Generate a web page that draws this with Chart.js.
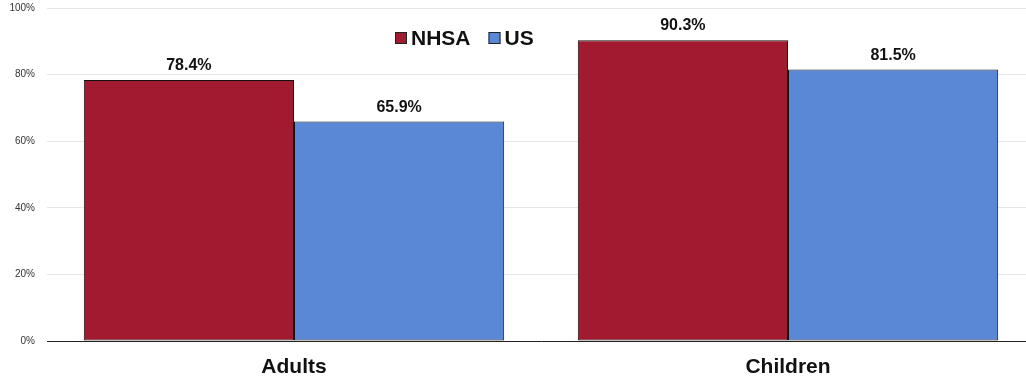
<!DOCTYPE html>
<html><head><meta charset="utf-8">
<script src="https://cdn.jsdelivr.net/npm/chart.js@4/dist/chart.umd.min.js"></script>
<style>html,body{margin:0;padding:0;background:#fff;overflow:hidden;width:1026px;height:381px}#wrap{position:absolute;left:0;top:-10px;width:1035px;height:391px}</style>
</head><body><div id="wrap"><canvas id="c"></canvas></div>
<script>
const categories = ["Adults", "Children"];
const nhsaValues = [78.4, 90.3];
const usValues = [65.9, 81.5];
const seriesNames = ["NHSA", "US"];
const yTicks = [0, 20, 40, 60, 80, 100];

const FONT = "'Liberation Sans', Arial, sans-serif";

const labelPlugin = {
  id: 'vals',
  afterDatasetsDraw(chart) {
    const ctx = chart.ctx;
    ctx.save();
    ctx.font = "bold 16px " + FONT;
    ctx.fillStyle = "#111";
    ctx.textAlign = "center";
    ctx.textBaseline = "alphabetic";
    chart.data.datasets.forEach((ds, i) => {
      chart.getDatasetMeta(i).data.forEach((bar, j) => {
        ctx.fillText(ds.data[j].toFixed(1) + "%", bar.x, bar.y - 10);
      });
    });
    ctx.restore();
  }
};

const legendPlugin = {
  id: 'customLegend',
  afterDraw(chart) {
    const ctx = chart.ctx;
    ctx.save();
    ctx.font = "bold 21px " + FONT;
    ctx.textBaseline = "middle";
    const y = chart.chartArea.top + 30;
    const box = 12;
    let x = 395;
    chart.data.datasets.forEach((ds) => {
      ctx.fillStyle = ds.backgroundColor;
      ctx.fillRect(x, y - box/2, box, box);
      ctx.strokeStyle = "#222";
      ctx.lineWidth = 1;
      ctx.strokeRect(x + 0.5, y - box/2 + 0.5, box - 1, box - 1);
      ctx.fillStyle = "#111";
      ctx.textAlign = "left";
      ctx.fillText(ds.label, x + box + 4, y + 1);
      x += box + 4 + ctx.measureText(ds.label).width + 18;
    });
    ctx.restore();
  }
};

new Chart(document.getElementById('c'), {
  type: 'bar',
  data: {
    labels: categories,
    datasets: [
      { label: seriesNames[0], data: nhsaValues, backgroundColor: "#A21A30", borderColor: "#111", borderWidth: 1, borderSkipped: false },
      { label: seriesNames[1], data: usValues, backgroundColor: "#5B87D7", borderColor: "#111", borderWidth: 1, borderSkipped: false }
    ]
  },
  options: {
    responsive: true,
    maintainAspectRatio: false,
    animation: false,
    layout: { padding: { top: 8, right: 0, left: 0, bottom: 0 } },
    datasets: { bar: { categoryPercentage: 0.851, barPercentage: 1.0 } },
    plugins: { legend: { display: false }, tooltip: { enabled: false } },
    scales: {
      x: {
        afterFit(scale) { scale.height = 40; },
        grid: { display: false, drawTicks: false },
        border: { color: "#222", width: 1 },
        ticks: { font: { family: FONT, size: 21, weight: 'bold' }, color: "#111", padding: 14 }
      },
      y: {
        min: 0, max: 100,
        afterFit(scale) { scale.width = 47; },
        afterBuildTicks(axis) { axis.ticks = yTicks.map(v => ({ value: v })); },
        grid: { color: "#e6e6e6", drawTicks: false },
        border: { display: false },
        ticks: { font: { family: FONT, size: 10 }, color: "#333", padding: 12, callback: v => v + "%" }
      }
    }
  },
  plugins: [labelPlugin, legendPlugin]
});
</script>
</body></html>
